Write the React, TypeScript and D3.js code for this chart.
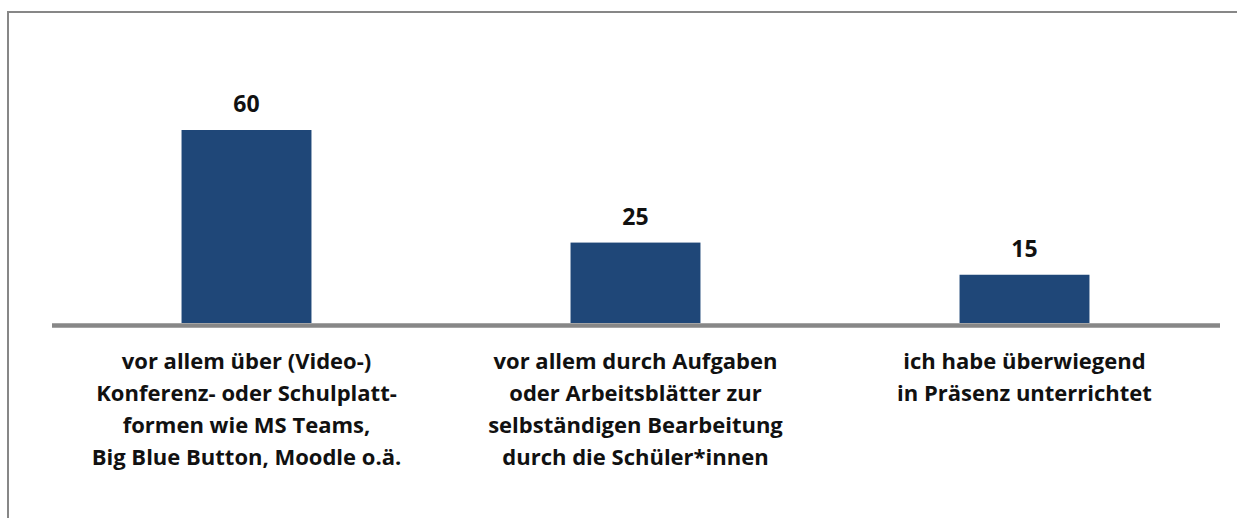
import React from 'react';
import { scaleBand, scaleLinear } from 'd3';

// categories (each entry = lines of the wrapped x label)
const categories = [
  ['vor allem über (Video-)', 'Konferenz- oder Schulplatt-', 'formen wie MS Teams,', 'Big Blue Button, Moodle o.ä.'],
  ['vor allem durch Aufgaben', 'oder Arbeitsblätter zur', 'selbständigen Bearbeitung', 'durch die Schüler*innen'],
  ['ich habe überwiegend', 'in Präsenz unterrichtet'],
];
const values = [60, 25, 15];

const App = () => {
  const width = 1237;
  const height = 518;
  const font = '"Open Sans", Lato, sans-serif';

  const keys = categories.map((c, i) => `c${i}`);

  const xScale = scaleBand()
    .domain(keys)
    .range([52, 1219])
    .paddingInner(0.666)
    .paddingOuter(0.333);

  const yScale = scaleLinear()
    .domain([0, 60])
    .range([323, 130]);

  const lineHeight = 32;
  const labelTop = 369;

  return (
    <svg width={width} height={height} style={{ position: 'absolute', left: 0, top: 0, background: '#fff' }}>
      {/* frame, open to the right and bottom */}
      <rect x={8} y={12} width={width + 40} height={height + 40} fill="#fff" stroke="#878787" strokeWidth={2} />

      {values.map((v, i) => {
        const x = xScale(keys[i]);
        const cx = x + xScale.bandwidth() / 2;
        return (
          <g key={`bar-${i}`}>
            <rect
              x={x}
              y={yScale(v)}
              width={xScale.bandwidth()}
              height={yScale(0) - yScale(v)}
              fill="#1f4778"
            />
            <text
              x={cx}
              y={yScale(v) - 18}
              textAnchor="middle"
              fontFamily={font}
              fontWeight="bold"
              fontSize={23}
              fill="#111"
            >
              {v}
            </text>
            <text textAnchor="middle" fontFamily={font} fontWeight="bold" fontSize={22} fill="#111">
              {categories[i].map((line, j) => (
                <tspan key={`l-${j}`} x={cx} y={labelTop + j * lineHeight}>
                  {line}
                </tspan>
              ))}
            </text>
          </g>
        );
      })}

      {/* baseline */}
      <line x1={52} x2={1220} y1={325.5} y2={325.5} stroke="#878787" strokeWidth={4.5} />
    </svg>
  );
};

export default App;
